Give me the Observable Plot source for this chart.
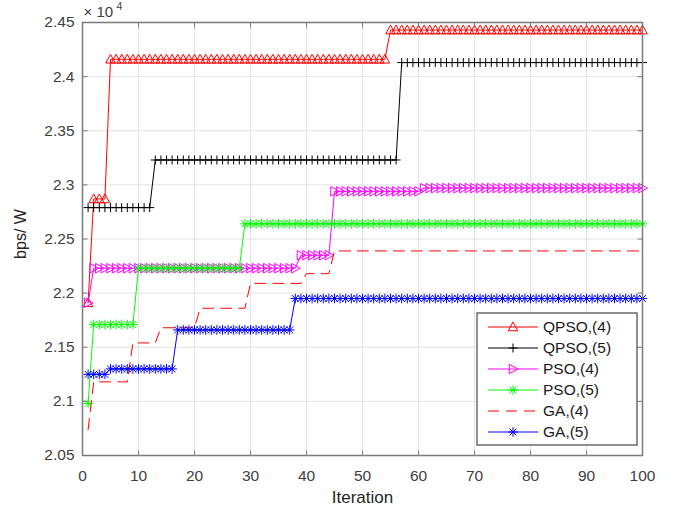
<!DOCTYPE html>
<html><head><meta charset="utf-8">
<script src="https://cdn.jsdelivr.net/npm/d3@7"></script>
<script src="https://cdn.jsdelivr.net/npm/@observablehq/plot@0.6"></script>
<style>
html,body{margin:0;padding:0;background:#fff;}
#chart{position:relative;width:678px;height:510px;overflow:hidden;}
#chart svg{display:block;}
#legend{position:absolute;left:0;top:0;pointer-events:none;}
</style></head><body><div id="chart"></div>
<script>
// ---- data (values in units of 10^4 bps/W) ----
const iterations = d3.range(1, 101);
const qpso4 = [
2.191,2.287,2.287,2.287,2.416,2.416,2.416,2.416,2.416,2.416,
2.416,2.416,2.416,2.416,2.416,2.416,2.416,2.416,2.416,2.416,
2.416,2.416,2.416,2.416,2.416,2.416,2.416,2.416,2.416,2.416,
2.416,2.416,2.416,2.416,2.416,2.416,2.416,2.416,2.416,2.416,
2.416,2.416,2.416,2.416,2.416,2.416,2.416,2.416,2.416,2.416,
2.416,2.416,2.416,2.416,2.443,2.443,2.443,2.443,2.443,2.443,
2.443,2.443,2.443,2.443,2.443,2.443,2.443,2.443,2.443,2.443,
2.443,2.443,2.443,2.443,2.443,2.443,2.443,2.443,2.443,2.443,
2.443,2.443,2.443,2.443,2.443,2.443,2.443,2.443,2.443,2.443,
2.443,2.443,2.443,2.443,2.443,2.443,2.443,2.443,2.443,2.443];
const qpso5 = [
2.279,2.279,2.279,2.279,2.279,2.279,2.279,2.279,2.279,2.279,
2.279,2.279,2.323,2.323,2.323,2.323,2.323,2.323,2.323,2.323,
2.323,2.323,2.323,2.323,2.323,2.323,2.323,2.323,2.323,2.323,
2.323,2.323,2.323,2.323,2.323,2.323,2.323,2.323,2.323,2.323,
2.323,2.323,2.323,2.323,2.323,2.323,2.323,2.323,2.323,2.323,
2.323,2.323,2.323,2.323,2.323,2.323,2.413,2.413,2.413,2.413,
2.413,2.413,2.413,2.413,2.413,2.413,2.413,2.413,2.413,2.413,
2.413,2.413,2.413,2.413,2.413,2.413,2.413,2.413,2.413,2.413,
2.413,2.413,2.413,2.413,2.413,2.413,2.413,2.413,2.413,2.413,
2.413,2.413,2.413,2.413,2.413,2.413,2.413,2.413,2.413,2.413];
const pso4 = [
2.191,2.223,2.223,2.223,2.223,2.223,2.223,2.223,2.223,2.223,
2.223,2.223,2.223,2.223,2.223,2.223,2.223,2.223,2.223,2.223,
2.223,2.223,2.223,2.223,2.223,2.223,2.223,2.223,2.223,2.223,
2.223,2.223,2.223,2.223,2.223,2.223,2.223,2.223,2.235,2.235,
2.235,2.235,2.235,2.235,2.294,2.294,2.294,2.294,2.294,2.294,
2.294,2.294,2.294,2.294,2.294,2.294,2.294,2.294,2.294,2.294,
2.297,2.297,2.297,2.297,2.297,2.297,2.297,2.297,2.297,2.297,
2.297,2.297,2.297,2.297,2.297,2.297,2.297,2.297,2.297,2.297,
2.297,2.297,2.297,2.297,2.297,2.297,2.297,2.297,2.297,2.297,
2.297,2.297,2.297,2.297,2.297,2.297,2.297,2.297,2.297,2.297];
const pso5 = [
2.098,2.171,2.171,2.171,2.171,2.171,2.171,2.171,2.171,2.223,
2.223,2.223,2.223,2.223,2.223,2.223,2.223,2.223,2.223,2.223,
2.223,2.223,2.223,2.223,2.223,2.223,2.223,2.223,2.264,2.264,
2.264,2.264,2.264,2.264,2.264,2.264,2.264,2.264,2.264,2.264,
2.264,2.264,2.264,2.264,2.264,2.264,2.264,2.264,2.264,2.264,
2.264,2.264,2.264,2.264,2.264,2.264,2.264,2.264,2.264,2.264,
2.264,2.264,2.264,2.264,2.264,2.264,2.264,2.264,2.264,2.264,
2.264,2.264,2.264,2.264,2.264,2.264,2.264,2.264,2.264,2.264,
2.264,2.264,2.264,2.264,2.264,2.264,2.264,2.264,2.264,2.264,
2.264,2.264,2.264,2.264,2.264,2.264,2.264,2.264,2.264,2.264];
const ga4 = [
2.074,2.118,2.118,2.118,2.118,2.118,2.118,2.118,2.154,2.154,
2.154,2.154,2.154,2.168,2.168,2.168,2.168,2.168,2.168,2.168,
2.186,2.186,2.186,2.186,2.186,2.186,2.186,2.186,2.186,2.209,
2.209,2.209,2.209,2.209,2.209,2.209,2.209,2.209,2.209,2.218,
2.218,2.218,2.218,2.218,2.239,2.239,2.239,2.239,2.239,2.239,
2.239,2.239,2.239,2.239,2.239,2.239,2.239,2.239,2.239,2.239,
2.239,2.239,2.239,2.239,2.239,2.239,2.239,2.239,2.239,2.239,
2.239,2.239,2.239,2.239,2.239,2.239,2.239,2.239,2.239,2.239,
2.239,2.239,2.239,2.239,2.239,2.239,2.239,2.239,2.239,2.239,
2.239,2.239,2.239,2.239,2.239,2.239,2.239,2.239,2.239,2.239];
const ga5 = [
2.125,2.125,2.125,2.125,2.130,2.130,2.130,2.130,2.130,2.130,
2.130,2.130,2.130,2.130,2.130,2.130,2.166,2.166,2.166,2.166,
2.166,2.166,2.166,2.166,2.166,2.166,2.166,2.166,2.166,2.166,
2.166,2.166,2.166,2.166,2.166,2.166,2.166,2.195,2.195,2.195,
2.195,2.195,2.195,2.195,2.195,2.195,2.195,2.195,2.195,2.195,
2.195,2.195,2.195,2.195,2.195,2.195,2.195,2.195,2.195,2.195,
2.195,2.195,2.195,2.195,2.195,2.195,2.195,2.195,2.195,2.195,
2.195,2.195,2.195,2.195,2.195,2.195,2.195,2.195,2.195,2.195,
2.195,2.195,2.195,2.195,2.195,2.195,2.195,2.195,2.195,2.195,
2.195,2.195,2.195,2.195,2.195,2.195,2.195,2.195,2.195,2.195];

const seriesNames = ["QPSO,(4)", "QPSO,(5)", "PSO,(4)", "PSO,(5)", "GA,(4)", "GA,(5)"];
const seriesValues = [qpso4, qpso5, pso4, pso5, ga4, ga5];
const xTicks = [0, 10, 20, 30, 40, 50, 60, 70, 80, 90, 100];
const yTicks = [2.05, 2.1, 2.15, 2.2, 2.25, 2.3, 2.35, 2.4, 2.45];
const xDomain = [0, 100];
const yDomain = [2.05, 2.45];

// ---- styles ----
const seriesColors = ["#ff0000", "#000000", "#ff00ff", "#00ff00", "#ff0000", "#0000ff"];
const seriesDash = [null, null, null, null, "11,7", null];

const rad = s => Math.sqrt(s / Math.PI);
const triUp = {draw(c, s) { const r = rad(s); c.moveTo(0, -r); c.lineTo(r * 0.95, r * 0.75); c.lineTo(-r * 0.95, r * 0.75); c.closePath(); }};
const triRight = {draw(c, s) { const r = rad(s); c.moveTo(r, 0); c.lineTo(-r * 0.75, -r * 0.95); c.lineTo(-r * 0.75, r * 0.95); c.closePath(); }};
const plusSym = {draw(c, s) { const r = rad(s); c.moveTo(-r, 0); c.lineTo(r, 0); c.moveTo(0, -r); c.lineTo(0, r); }};
const asterSym = {draw(c, s) { const r = rad(s), d = r * 0.72; c.moveTo(-r, 0); c.lineTo(r, 0); c.moveTo(0, -r); c.lineTo(0, r); c.moveTo(-d, -d); c.lineTo(d, d); c.moveTo(-d, d); c.lineTo(d, -d); }};
const seriesSymbol = [triUp, plusSym, triRight, asterSym, null, asterSym];
const seriesR = [5, 4.5, 5, 4.8, 0, 4.8];
const tickUp = {draw(c) { c.moveTo(0, 0); c.lineTo(0, -5); }};
const tickDown = {draw(c) { c.moveTo(0, 0); c.lineTo(0, 5); }};
const tickRight = {draw(c) { c.moveTo(0, 0); c.lineTo(5, 0); }};
const tickLeft = {draw(c) { c.moveTo(0, 0); c.lineTo(-5, 0); }};

const rows = seriesNames.map((name, k) => iterations.map((it, i) => ({it, v: seriesValues[k][i], k})));

const axisColor = "#7a7a7a";
const textColor = "#404040";
const font = "'Liberation Sans', Arial, Helvetica, sans-serif";

const marks = [
  Plot.gridX(xTicks, {stroke: "#e2e2e2", strokeOpacity: 1}),
  Plot.gridY(yTicks, {stroke: "#e2e2e2", strokeOpacity: 1})
];
rows.forEach((data, k) => {
  marks.push(Plot.line(data, {x: "it", y: "v", stroke: seriesColors[k], strokeWidth: 1, strokeDasharray: seriesDash[k]}));
  if (seriesSymbol[k]) marks.push(Plot.dot(data, {x: "it", y: "v", symbol: seriesSymbol[k], r: seriesR[k], fill: "none", stroke: seriesColors[k], strokeWidth: 1}));
});
marks.push(
  Plot.frame({stroke: axisColor, strokeWidth: 1.5}),
  Plot.dot(xTicks, {x: d => d, y: () => yDomain[0], symbol: tickUp, fill: "none", stroke: axisColor, strokeWidth: 1}),
  Plot.dot(xTicks, {x: d => d, y: () => yDomain[1], symbol: tickDown, fill: "none", stroke: axisColor, strokeWidth: 1}),
  Plot.dot(yTicks, {y: d => d, x: () => xDomain[0], symbol: tickRight, fill: "none", stroke: axisColor, strokeWidth: 1}),
  Plot.dot(yTicks, {y: d => d, x: () => xDomain[1], symbol: tickLeft, fill: "none", stroke: axisColor, strokeWidth: 1}),
  Plot.axisX(xTicks, {tickSize: 0, tickPadding: 14, fontSize: 15.5, fill: textColor, label: null, tickFormat: d => String(d)}),
  Plot.axisY(yTicks, {tickSize: 0, tickPadding: 8, fontSize: 15.5, fill: textColor, label: null, tickFormat: d3.format("~g")}),
  Plot.text(["Iteration"], {frameAnchor: "bottom", lineAnchor: "middle", textAnchor: "middle", dy: 42, fontSize: 17, fill: "#262626"}),
  Plot.text(["bps/ W"], {frameAnchor: "left", lineAnchor: "middle", textAnchor: "middle", dx: -62, dy: -5, rotate: -90, fontSize: 16, fill: "#262626"}),
  Plot.text(["× 10"], {frameAnchor: "top-left", lineAnchor: "middle", textAnchor: "start", dx: 1, dy: -10, fontSize: 15, fill: textColor}),
  Plot.text(["4"], {frameAnchor: "top-left", lineAnchor: "middle", textAnchor: "start", dx: 34, dy: -16, fontSize: 10.5, fill: textColor})
);

const chart = Plot.plot({
  width: 678, height: 510,
  marginLeft: 82, marginRight: 36, marginTop: 22, marginBottom: 55,
  style: {fontFamily: font, background: "white", overflow: "visible"},
  x: {domain: xDomain},
  y: {domain: yDomain},
  marks
});
const host = document.getElementById("chart");
host.appendChild(chart);

// ---- legend (inside the axes, bottom-right) ----
const lg = d3.select(host).append("svg").attr("id", "legend").attr("width", 678).attr("height", 510);
const bx = 477, by = 313, bw = 160, bh = 132;
lg.append("rect").attr("x", bx).attr("y", by).attr("width", bw).attr("height", bh)
  .attr("fill", "white").attr("stroke", "#555").attr("stroke-width", 1.3);
seriesNames.forEach((name, k) => {
  const cy = by + 14 + k * 21;
  const g = lg.append("g");
  g.append("line").attr("x1", bx + 11).attr("x2", bx + 61).attr("y1", cy).attr("y2", cy)
    .attr("stroke", seriesColors[k]).attr("stroke-width", 1).attr("stroke-dasharray", seriesDash[k]);
  if (seriesSymbol[k]) {
    const p = d3.path();
    seriesSymbol[k].draw(p, Math.PI * seriesR[k] * seriesR[k]);
    g.append("path").attr("d", p.toString()).attr("transform", `translate(${bx + 36},${cy})`)
      .attr("fill", "none").attr("stroke", seriesColors[k]).attr("stroke-width", 1);
  }
  g.append("text").attr("x", bx + 66).attr("y", cy).attr("dy", "0.35em")
    .attr("font-family", font).attr("font-size", 15.5).attr("fill", "#1a1a1a").text(name);
});
</script></body></html>
